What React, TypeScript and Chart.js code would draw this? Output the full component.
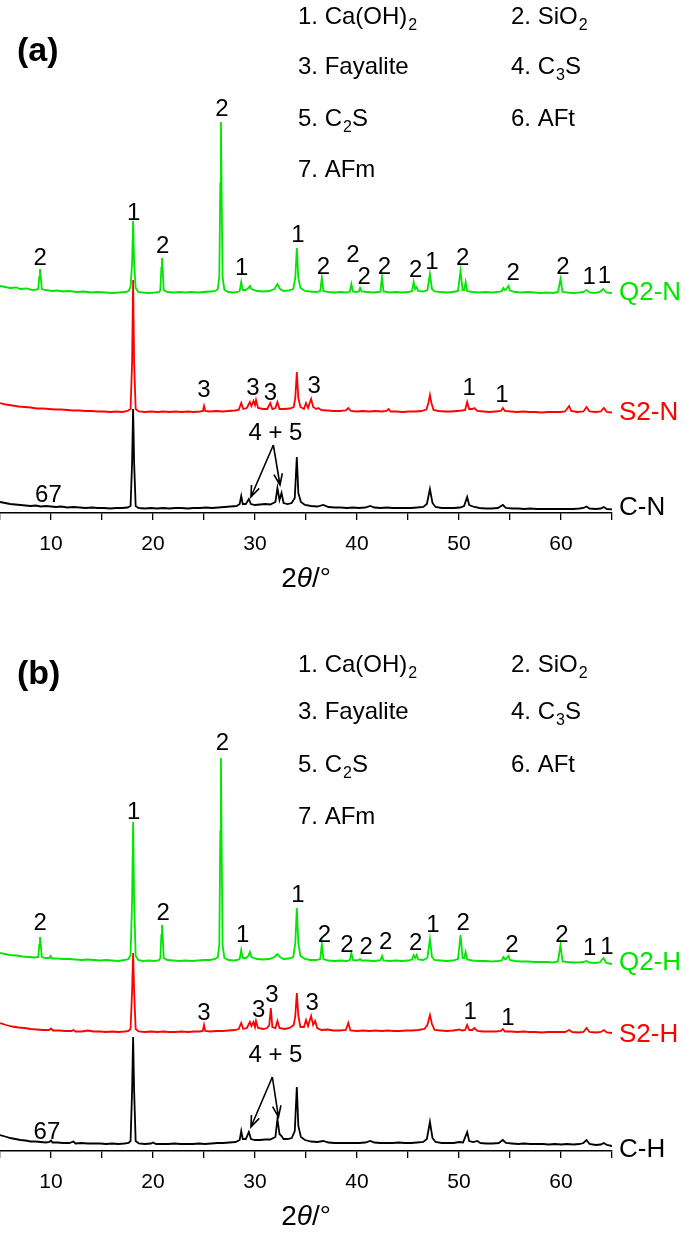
import React, { useEffect, useRef } from 'react';
import { Chart, registerables } from 'chart.js';

Chart.register(...registerables);

type Pt = [number, number];
type Lab = [number, number, string];

const FONT = '"Liberation Sans", Arial, Helvetica, sans-serif';

const X_MIN = 5;
const X_MAX = 65;
const X_TICK_LABELS = [10, 20, 30, 40, 50, 60];

// ---------- panel (a) ----------
const Q2N: Pt[] = [
  [5,227],[5.5,226],[6,225],[6.6,225.5],[7,224],[7.6,224.5],[8.2,223],[8.6,223.5],
  [8.75,224],[8.85,236],[8.92,244],[9.0,236],[9.1,224],
  [9.5,223],[10.1,222],[10.6,222.5],[11.2,221.5],[11.8,222],[12.5,221],[13.2,221.5],[13.9,220.5],[14.6,221],[15.3,220.5],[16,220],[16.7,220.5],[17.3,221],
  [17.6,222],[17.8,226],[17.95,250],[18.05,292],[18.15,250],[18.3,225],[18.55,221],
  [19,220.5],[19.6,220],[20.2,220.5],[20.6,221],
  [20.72,223],[20.82,245],[20.88,255],[20.95,245],[21.05,223],
  [21.4,221],[22,220.5],[22.6,221],[23.2,220.5],[23.8,221],[24.4,220.5],[25,221],[25.6,221.5],[26.1,222],
  [26.35,224],[26.5,236],[26.6,330],[26.66,391],[26.72,330],[26.82,236],[27.0,223],
  [27.4,221],[27.9,220.5],[28.3,221],
  [28.5,222],[28.65,231],[28.8,223],[29.1,223],[29.35,225],[29.5,227],[29.65,224],
  [30.2,222],[30.8,221.5],[31.4,222],[31.9,224],[32.2,229],[32.45,224],[32.8,222],[33.3,222.5],
  [33.75,224],[33.95,235],[34.1,265],[34.25,235],[34.45,225],
  [34.9,222],[35.4,221.5],[36.0,221],
  [36.4,222],[36.55,235],[36.7,222],
  [37.2,221],[37.8,220.5],[38.4,221],[39.0,220.5],
  [39.3,221.5],[39.45,229],[39.6,221.5],[39.9,221],[40.2,221.5],[40.3,225],[40.45,221.5],
  [41,221],[41.6,220.5],[42.1,221],
  [42.3,221.5],[42.45,236],[42.6,221.5],
  [43.2,220.5],[43.8,221],[44.4,220.5],[45,221],
  [45.4,222],[45.55,231],[45.7,224],[45.85,226],[46.0,222],
  [46.5,221.5],[46.9,223],[47.15,239],[47.35,224],[47.6,221.5],
  [48.2,221],[48.8,220.5],[49.4,221],[49.9,222],
  [50.15,242],[50.35,223],[50.5,223],[50.65,231],[50.8,222],
  [51.3,221],[52,220.5],[52.6,221],[53.2,220.5],[53.8,221],
  [54.2,222],[54.35,225],[54.5,223],[54.6,223.5],[54.85,227],[55.0,222.5],
  [55.5,221],[56.1,220.5],[56.8,221],[57.4,220.5],[58,220],[58.6,220.5],[59.2,220],[59.7,221],
  [59.95,234],[60.15,221],
  [60.6,220.5],[61.2,220],[61.8,220.5],[62.2,221],[62.5,223],[62.8,220.5],
  [63.3,220],[63.8,221],[64.15,224],[64.45,220.5],[65,220]
];

const S2N: Pt[] = [
  [5,110],[5.6,108.5],[6.2,107.5],[6.8,106.5],[7.4,106],[8,105.5],[8.6,104.5],[9.2,104.5],[9.8,104],[10.4,103.5],[11,103.5],[11.6,103],[12.2,102.5],[12.8,102.5],[13.4,102],[14,102],[14.6,101.5],[15.2,101.5],[15.8,101],[16.4,101.5],[17,101],[17.5,102],
  [17.8,104],[17.95,150],[18.05,233],[18.15,150],[18.3,104],[18.6,101.5],
  [19.2,101],[19.8,101.5],[20.4,101],[21,101.5],[21.6,101],[22.2,101.5],[22.8,101],[23.4,101.5],[24,101],[24.6,101.5],
  [24.9,102],[25.0,107],[25.12,102],
  [25.6,101.5],[26.2,102],[26.8,101.5],[27.4,102],[28,102.5],[28.4,103],
  [28.65,110],[28.85,104],[29.2,105],[29.5,111],[29.65,107],[29.85,112],[30.0,108],[30.1,113],[30.3,105],[30.8,104],[31.2,104],[31.5,110],[31.7,104],[32.0,105],[32.2,111],[32.4,104],[32.9,104],[33.4,104.5],[33.8,106],
  [33.95,115],[34.1,141],[34.25,115],[34.45,106],
  [34.8,104],[35.0,110],[35.2,105],[35.5,114],[35.7,106],[36.0,104],[36.2,105],[36.5,103],[37.1,102.5],[37.7,102],[38.3,102],[38.9,102.5],
  [39.15,105],[39.4,102],[40,101.5],[40.6,102],[41.2,101.5],[41.8,102],[42.4,101.5],[42.9,102],[43.1,104],[43.3,101.5],[43.9,101.5],[44.5,101],[45.1,101.5],[45.7,101.5],[46.3,102],[46.8,103.5],
  [47.0,110],[47.15,118],[47.3,110],[47.5,103],[48,102],[48.6,101.5],[49.2,101.5],[49.8,102],[50.3,102.5],[50.6,103],
  [50.8,111],[51,104],[51.3,104],[51.5,105],[51.8,102],[52.4,101.5],[53,101],[53.6,101.5],[54.1,102],
  [54.3,105],[54.5,102],[55.1,101.5],[55.7,101],[56.3,101.5],[56.9,101],[57.5,101],[58.1,100.5],[58.7,101],[59.3,101],[59.9,101],[60.4,101.5],
  [60.8,107],[61.0,102],[61.6,101],[62.2,101.5],[62.5,106],[62.8,101.5],[63.4,101],[63.9,101.5],[64.2,105],[64.5,101],[65,100.5]
];

const CN: Pt[] = [
  [5,11],[5.5,10],[6,9],[6.5,8.5],[7,8],[7.5,7.5],[8,7],[8.5,7.5],[9,6.5],[9.5,7],[10,6.5],[10.5,6],[11,6.5],[11.6,5.5],[12.2,6],[12.8,5.5],[13.4,5],[14,5.5],[14.6,5],[15.2,5],[15.8,4.5],[16.4,5],[17,5],[17.5,5.5],
  [17.8,7],[17.95,50],[18.05,104],[18.15,50],[18.3,7],[18.6,5],
  [19.2,4.5],[19.8,5],[20.4,4.5],[21,5],[21.6,4.5],[22.2,5],[22.8,5],[23.4,4.5],[24,5],[24.6,5],[25.2,5.5],[25.8,5],[26.4,5.5],[27,6],[27.6,6.5],[28.2,7],
  [28.5,9],[28.65,17],[28.8,9],[29.1,9],[29.4,14],[29.6,9],[30,8],[30.5,8.5],[31,9],[31.5,8.5],[32,11],
  [32.2,25],[32.4,13],[32.6,20],[32.8,10],[33.2,9],[33.6,10],[33.9,15],
  [34.1,56],[34.25,20],[34.5,11],[34.9,8],[35.5,7],[36.1,6.5],[36.7,8],[37.2,6],[37.8,5.5],[38.4,5.5],[39,5],[39.6,5.5],[40.2,5],[40.8,5.5],[41.3,7],[41.7,5.5],[42.3,5],[42.9,5.5],[43.5,5],[44.1,5],[44.7,5],[45.3,5],[45.9,5.5],[46.5,6],[46.85,9],
  [47.15,24],[47.4,10],[47.7,6],[48.3,5],[48.9,5],[49.5,5],[50.1,5.5],[50.5,7],
  [50.8,16],[51.0,8],[51.5,6],[52,5],[52.6,4.5],[53.2,4.5],[53.8,5],[54.3,8],[54.6,5],[55.2,4.5],[55.8,4.5],[56.4,4],[57,4.5],[57.6,4],[58.2,4],[58.8,4],[59.4,4],[60,4],[60.6,4],[61.2,4],[61.8,4.5],[62.2,5],[62.5,6.5],[62.8,4.5],[63.4,4],[63.9,4.5],[64.2,6],[64.5,4],[65,3.7]
];

// ---------- panel (b) ----------
const Q2H: Pt[] = [
  [5,198],[5.5,197],[6,196],[6.6,195.5],[7.2,194.5],[7.8,194],[8.4,193.5],
  [8.75,194],[8.85,206],[8.92,214],[9.0,206],[9.1,194],
  [9.5,193],[9.85,193],[9.95,195],[10.1,192.5],[10.6,192.5],[11.2,192],[11.8,192],[12.4,191.5],[13,191],[13.6,191.5],[14.2,191],[14.8,190.5],[15.4,191],[16,190.5],[16.6,190],[17.2,191],
  [17.6,192],[17.8,196],[17.95,250],[18.05,329],[18.15,250],[18.3,195],[18.55,191],
  [19,190],[19.6,190.5],[20.2,190],[20.6,191],
  [20.72,193],[20.82,216],[20.88,226],[20.95,216],[21.05,193],
  [21.4,191],[22,190.5],[22.6,190],[23.2,190.5],[23.8,190],[24.4,190.5],[25,191],[25.6,191],[26.1,192],
  [26.35,194],[26.5,206],[26.6,320],[26.66,393],[26.72,320],[26.82,206],[27.0,193],
  [27.4,191],[27.9,190.5],[28.3,191],
  [28.5,192],[28.65,201],[28.8,193],[29.1,193],[29.35,195],[29.5,199],[29.65,194],
  [30.2,192],[30.8,191.5],[31.4,192],[31.9,194],[32.2,197],[32.45,194],[32.8,192],[33.3,192.5],
  [33.75,194],[33.95,208],[34.1,243],[34.25,208],[34.45,195],
  [34.9,192],[35.4,191],[36.0,191],
  [36.4,192],[36.55,207],[36.7,192],
  [37.2,190.5],[37.8,190],[38.4,190.5],[39.0,190],
  [39.3,191],[39.45,198],[39.6,191],[39.9,190.5],[40.2,191],[40.3,192],[40.45,190.5],
  [41,190.5],[41.6,190],[42.1,190.5],
  [42.3,191],[42.45,195],[42.6,190.5],
  [43.2,190],[43.8,190.5],[44.4,190],[45,190.5],
  [45.4,191.5],[45.55,196],[45.7,193],[45.85,196],[46.0,191.5],
  [46.5,191],[46.9,193],[47.15,212],[47.35,194],[47.6,191],
  [48.2,190.5],[48.8,190],[49.4,190.5],[49.9,192],
  [50.15,216],[50.35,193],[50.5,193],[50.65,199],[50.8,191.5],
  [51.3,190.5],[52,190],[52.6,190],[53.2,189.5],[53.8,190],
  [54.2,190.5],[54.35,194],[54.5,192],[54.6,192],[54.85,195],[55.0,191],
  [55.5,190],[56.1,189.5],[56.8,189.5],[57.4,189],[58,189],[58.6,189],[59.2,188.5],[59.7,189.5],
  [59.95,206],[60.15,189.5],
  [60.6,189],[61.2,188.5],[61.8,188.5],[62.2,189],[62.5,190],[62.8,188.5],[63.3,188],[63.8,188.5],[64.15,193],[64.45,188],[65,187]
];

const S2H: Pt[] = [
  [5,128],[5.6,126],[6.2,124.5],[6.8,123.5],[7.4,123],[8,122],[8.6,121.5],[9.2,121],[9.8,121],[10.0,122.5],[10.2,120.5],[10.8,120.5],[11.4,120],[12,120],[12.2,121],[12.4,119.5],[13,119.5],[13.6,120.5],[14.2,119.5],[14.8,119.5],[15.4,119],[16,119.5],[16.6,119],[17.2,119.5],[17.6,120],
  [17.8,122],[17.95,160],[18.05,198],[18.15,160],[18.3,122],[18.6,119.5],
  [19.2,119],[19.8,119.5],[20.4,119],[21,119.5],[21.6,119],[22.2,119],[22.8,119.5],[23.4,119],[24,119.5],[24.6,119.5],
  [24.88,120],[25.0,126],[25.12,120],
  [25.6,119.5],[26.2,120],[26.8,120],[27.4,120.5],[28,121],[28.4,122],
  [28.65,128],[28.85,122],[29.2,123],[29.5,129],[29.65,125],[29.85,129],[30.0,124],[30.1,130],[30.3,123],[30.8,122],[31.2,123],
  [31.4,126],[31.55,143],[31.7,124],[32.0,123],[32.2,130],[32.4,123],[32.9,122],[33.4,123],[33.8,126],
  [33.95,135],[34.1,158],[34.25,135],[34.45,124],
  [34.8,124],[35.0,131],[35.2,125],[35.5,135],[35.7,126],[35.9,130],[36.1,123],[36.5,121],[37.1,121.5],[37.7,120.5],[38.3,120.5],[38.9,121],
  [39.15,128],[39.35,120.5],[40,120],[40.6,120.5],[41.2,120],[41.8,120.5],[42.4,120],[43,120.5],[43.6,120],[44.2,120],[44.8,120.5],[45.4,120.5],[46,121],[46.6,122],[46.9,126],
  [47.15,136],[47.35,127],[47.6,121],[48.2,120.5],[48.8,120],[49.4,120.5],[49.8,121],[50.0,121.5],[50.3,120.5],[50.6,121],
  [50.8,126],[51.0,121],[51.3,121],[51.5,123],[51.8,120],[52.4,119.5],[53,119.5],[53.6,119.5],[54.1,120],
  [54.3,122],[54.5,119.5],[55.1,119.5],[55.7,119],[56.3,119.5],[56.9,119],[57.5,119],[58.1,118.5],[58.7,119],[59.3,119],[59.9,119],[60.4,119],[60.8,121],[61.1,119],[61.7,118.5],[62.2,119],
  [62.5,123],[62.8,119],[63.4,118.5],[63.9,119],[64.2,121],[64.5,118.5],[65,118]
];

const CH: Pt[] = [
  [5,16],[5.5,14.5],[6,13],[6.5,12],[7,11],[7.5,10.5],[8,9.5],[8.5,9.5],[9,9],[9.5,8.5],[9.85,9],[10.0,10.5],[10.15,8.5],[10.6,8.5],[11.2,8],[11.8,8],[12.2,9.5],[12.4,7.5],[13,8],[13.6,7.5],[14.2,7.5],[14.8,7.5],[15.4,7],[16,7.5],[16.6,7],[17.2,7.5],[17.6,8],
  [17.8,10],[17.95,60],[18.05,114],[18.15,60],[18.3,10],[18.6,7.5],
  [19.2,7],[19.8,7.5],[20.0,8.5],[20.3,7],[20.9,7],[21.5,7],[22.1,7.5],[22.7,7],[23.3,7],[23.9,7],[24.5,7.5],[25.1,7],[25.7,7.5],[26.3,8],[26.9,8],[27.5,8.5],[28.1,9],
  [28.5,11],[28.65,20],[28.8,12],[29.1,12],[29.4,19],[29.6,12],[30,11],[30.5,11],[31,11.5],[31.5,11.5],[32,14],
  [32.2,32],[32.4,17],[32.6,15],[32.8,12],[33.2,12],[33.6,13],[33.9,20],
  [34.1,64],[34.25,25],[34.5,14],[34.9,11],[35.5,9.5],[36.1,9],[36.7,10],[37.2,8.5],[37.8,8],[38.4,8],[39,8],[39.6,8],[40.2,8],[40.8,8.5],[41.3,10],[41.7,8.5],[42.3,8],[42.9,8],[43.5,8],[44.1,8.5],[44.7,8],[45.3,8],[45.9,8.5],[46.5,9],[46.85,12],
  [47.15,29],[47.4,13],[47.7,9],[48.3,8],[48.9,8],[49.5,8],[50.0,9],[50.4,8.5],
  [50.8,19],[51.0,10],[51.4,9],[51.8,10],[52.1,8],[52.7,7.5],[53.3,7.5],[53.9,8],[54.3,11],[54.6,8],[55.2,7.5],[55.8,7],[56.4,7.5],[57,7],[57.6,7],[58.2,7],[58.8,6.5],[59.4,7],[60,6.5],[60.6,7],[61.2,6.5],[61.8,7],[62.2,8],
  [62.5,11],[62.8,7],[63.4,6],[63.9,6.5],[64.2,8],[64.5,6],[65,5]
];

const NAMES_A = ['Q2-N', 'S2-N', 'C-N'];
const NAMES_B = ['Q2-H', 'S2-H', 'C-H'];
const NAME_Y_A = [220, 100, 5];
const NAME_Y_B = [188, 116, 1];
const SERIES_COLORS = ['#00e600', '#ff0000', '#000000'];

const PEAKS_A: Lab[] = [
  [8.95,255,'2'],[18.1,300,'1'],[20.95,267,'2'],[26.75,404,'2'],[28.7,245,'1'],[34.2,278,'1'],[36.7,246,'2'],
  [39.6,258,'2'],[40.7,236,'2'],[42.7,246,'2'],[45.75,243,'2'],[47.35,251,'1'],[50.35,255,'2'],[55.3,240,'2'],
  [60.2,246,'2'],[62.75,236,'1'],[64.25,237,'1'],
  [25.0,123,'3'],[29.8,125,'3'],[31.5,120,'3'],[35.8,127,'3'],[51.0,125,'1'],[54.2,118,'1'],
  [9.75,18,'67'],[32.0,80,'4 + 5']
];
const PEAKS_B: Lab[] = [
  [8.95,228,'2'],[18.1,339,'1'],[21.0,238,'2'],[26.8,408,'2'],[28.8,216,'1'],[34.2,256,'1'],[36.8,216,'2'],
  [39.0,206,'2'],[40.9,204,'2'],[42.8,209,'2'],[45.75,208,'2'],[47.45,226,'1'],[50.4,228,'2'],[55.2,206,'2'],
  [60.1,216,'2'],[62.8,203,'1'],[64.5,204,'1'],
  [25.0,138,'3'],[30.35,141,'3'],[31.65,156,'3'],[35.6,148,'3'],[51.1,139,'1'],[54.8,133,'1'],
  [9.6,19,'67'],[32.0,96,'4 + 5']
];

const ARROWS_A: [number, number, number, number][] = [[31.8, 68, 29.6, 16], [31.8, 68, 32.45, 28]];
const ARROWS_B: [number, number, number, number][] = [[31.7, 74, 29.6, 24], [31.7, 74, 32.3, 34]];

const LEGEND_MAIN = ['1. Ca(OH)', '2. SiO', '3. Fayalite', '4. C', '5. C', '6. AFt', '7. AFm'];
const LEGEND_SUB = ['2', '2', '', '3', '2', '', ''];
const LEGEND_TAIL = ['', '', '', 'S', 'S', '', ''];

const Y_MAX = 513;
const CANVAS_W = 685;
const PLOT_RIGHT = 612;

interface Panel {
  letter: string;
  letterBaseline: number;
  legendRows: number[];
  series: Pt[][];
  names: string[];
  nameY: number[];
  peaks: Lab[];
  arrows: [number, number, number, number][];
  height: number;
  titleY: number;
}

const PANEL_A: Panel = {
  letter: '(a)', letterBaseline: 61, legendRows: [24, 74, 126, 177],
  series: [Q2N, S2N, CN], names: NAMES_A, nameY: NAME_Y_A, peaks: PEAKS_A, arrows: ARROWS_A,
  height: 600, titleY: 579,
};
const PANEL_B: Panel = {
  letter: '(b)', letterBaseline: 46, legendRows: [34, 81, 134, 186],
  series: [Q2H, S2H, CH], names: NAMES_B, nameY: NAME_Y_B, peaks: PEAKS_B, arrows: ARROWS_B,
  height: 599, titleY: 579,
};

function drawOverlay(chart: any, P: Panel) {
  const ctx: CanvasRenderingContext2D = chart.ctx;
  const xs = chart.scales.x;
  const ys = chart.scales.y;
  const area = chart.chartArea;
  ctx.save();
  ctx.fillStyle = '#000';
  ctx.strokeStyle = '#000';

  ctx.font = 'bold 34px ' + FONT;
  ctx.textAlign = 'left';
  ctx.textBaseline = 'alphabetic';
  ctx.fillText(P.letter, 17, P.letterBaseline);

  LEGEND_MAIN.forEach((m, i) => {
    const col = i % 2;
    const row = Math.floor(i / 2);
    const x = col === 0 ? 298 : 511;
    const y = P.legendRows[row];
    ctx.font = '24px ' + FONT;
    ctx.fillText(m, x, y);
    let w = ctx.measureText(m).width;
    if (LEGEND_SUB[i]) {
      ctx.font = '16px ' + FONT;
      ctx.fillText(LEGEND_SUB[i], x + w + 1, y + 6);
      w += ctx.measureText(LEGEND_SUB[i]).width + 1;
      ctx.font = '24px ' + FONT;
      if (LEGEND_TAIL[i]) ctx.fillText(LEGEND_TAIL[i], x + w, y);
    }
  });

  ctx.font = '24px ' + FONT;
  ctx.textAlign = 'center';
  ctx.textBaseline = 'middle';
  P.peaks.forEach(([x, y, t]) => {
    ctx.fillText(t, xs.getPixelForValue(x), ys.getPixelForValue(y));
  });

  ctx.lineWidth = 1.6;
  P.arrows.forEach(([x0, y0, x1, y1]) => {
    const px0 = xs.getPixelForValue(x0), py0 = ys.getPixelForValue(y0);
    const px1 = xs.getPixelForValue(x1), py1 = ys.getPixelForValue(y1);
    ctx.beginPath();
    ctx.moveTo(px0, py0);
    ctx.lineTo(px1, py1);
    const ang = Math.atan2(py1 - py0, px1 - px0);
    const L = 12, spread = 0.36;
    ctx.moveTo(px1 - L * Math.cos(ang - spread), py1 - L * Math.sin(ang - spread));
    ctx.lineTo(px1, py1);
    ctx.lineTo(px1 - L * Math.cos(ang + spread), py1 - L * Math.sin(ang + spread));
    ctx.stroke();
  });

  ctx.font = '26px ' + FONT;
  ctx.textAlign = 'left';
  P.names.forEach((n, i) => {
    ctx.fillStyle = SERIES_COLORS[i];
    ctx.fillText(n, area.right + 7, ys.getPixelForValue(P.nameY[i]));
  });

  // axis title 2θ/°
  ctx.fillStyle = '#000';
  const parts: [string, string][] = [['2', '28px '], ['θ', 'italic 28px '], ['/°', '28px ']];
  let total = 0;
  parts.forEach(([t, f]) => { ctx.font = f + FONT; total += ctx.measureText(t).width; });
  let cx = (area.left + area.right) / 2 - total / 2;
  ctx.textAlign = 'left';
  parts.forEach(([t, f]) => {
    ctx.font = f + FONT;
    ctx.fillText(t, cx, P.titleY);
    cx += ctx.measureText(t).width;
  });
  ctx.restore();
}

function XrdPanel({ panel, top }: { panel: Panel; top: number }) {
  const ref = useRef<HTMLCanvasElement | null>(null);
  useEffect(() => {
    if (!ref.current) return;
    const chart = new Chart(ref.current, {
      type: 'scatter',
      data: {
        datasets: panel.series.map((s, i) => ({
          label: panel.names[i],
          data: s.map(([x, y]) => ({ x, y })),
          showLine: true,
          borderColor: SERIES_COLORS[i],
          backgroundColor: SERIES_COLORS[i],
          borderWidth: 1.8,
          pointRadius: 0,
          tension: 0,
        })),
      },
      options: {
        responsive: false,
        animation: false,
        devicePixelRatio: 1,
        layout: { autoPadding: false, padding: { left: 0, right: CANVAS_W - PLOT_RIGHT, top: 0, bottom: 0 } },
        plugins: { legend: { display: false }, tooltip: { enabled: false }, title: { display: false } },
        scales: {
          x: {
            type: 'linear',
            min: X_MIN,
            max: X_MAX,
            afterFit: (scale: any) => {
              scale.height = panel.height - Y_MAX;
              scale.paddingLeft = 0;
              scale.paddingRight = 0;
            },
            border: { display: true, color: '#000', width: 1.5 },
            grid: { drawOnChartArea: false, drawTicks: true, tickLength: 7, color: '#000', lineWidth: 1.3 },
            ticks: {
              stepSize: 5,
              autoSkip: false,
              maxRotation: 0,
              color: '#000',
              padding: 12,
              font: { size: 21, family: FONT },
              callback: (v: any) => (X_TICK_LABELS.includes(Number(v)) ? String(v) : ''),
            },
          },
          y: { display: false, min: 0, max: Y_MAX },
        },
      },
      plugins: [{ id: 'xrdOverlay', afterDraw: (c: any) => drawOverlay(c, panel) }],
    } as any);
    return () => chart.destroy();
  }, [panel]);
  return (
    <canvas
      ref={ref}
      width={CANVAS_W}
      height={panel.height}
      style={{ position: 'absolute', left: 0, top, width: CANVAS_W, height: panel.height, display: 'block' }}
    />
  );
}

export default function App() {
  return (
    <div style={{ position: 'relative', width: CANVAS_W, height: 1237, overflow: 'hidden', background: '#fff' }}>
      <style>{'html,body{margin:0;padding:0;overflow:hidden;background:#fff}'}</style>
      <XrdPanel panel={PANEL_A} top={0} />
      <XrdPanel panel={PANEL_B} top={638} />
    </div>
  );
}
